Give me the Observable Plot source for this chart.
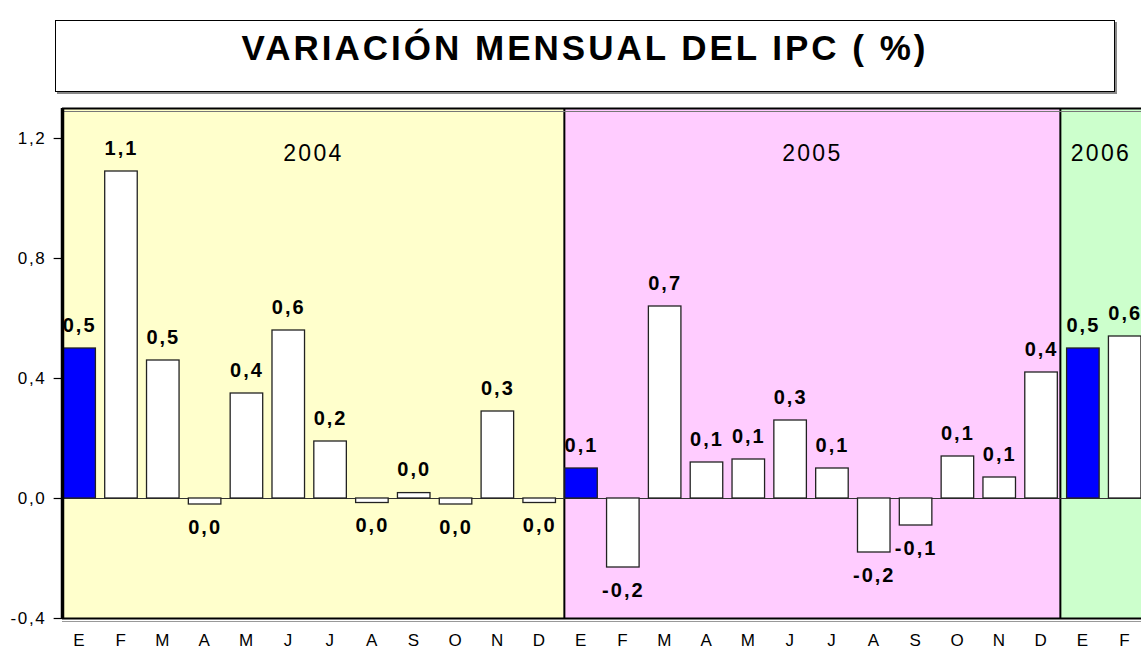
<!DOCTYPE html>
<html>
<head>
<meta charset="utf-8">
<script src="https://cdn.jsdelivr.net/npm/d3@7"></script>
<script src="https://cdn.jsdelivr.net/npm/@observablehq/plot@0.6"></script>
<style>
  html, body { margin: 0; padding: 0; background: #fff; }
  body { width: 1141px; height: 657px; position: relative; overflow: hidden; font-family: "Liberation Sans", Arial, sans-serif; }
  #title {
    position: absolute; left: 55px; top: 20px; width: 1058px; height: 70px;
    border: 1.5px solid #000; box-shadow: 2px 2px 0 #888; box-sizing: content-box;
    display: flex; align-items: center; justify-content: center;
    font-weight: bold; font-size: 35px; letter-spacing: 3px; color: #000;
  }
  #title span { position: relative; top: -8px; }
  #chart { position: absolute; left: 0; top: 100px; }
  #chart svg text { letter-spacing: 0.1em; }
</style>
</head>
<body>
<div id="title"><span>VARIACIÓN MENSUAL DEL IPC ( %)</span></div>
<div id="chart"></div>
<script>
// ---- data ----
const months = ["E","F","M","A","M","J","J","A","S","O","N","D",
                "E","F","M","A","M","J","J","A","S","O","N","D",
                "E","F"];
const years = [2004,2004,2004,2004,2004,2004,2004,2004,2004,2004,2004,2004,
               2005,2005,2005,2005,2005,2005,2005,2005,2005,2005,2005,2005,
               2006,2006];
const values = [0.50, 1.09, 0.46, -0.02, 0.35, 0.56, 0.19, -0.015, 0.018, -0.02, 0.29, -0.015,
                0.10, -0.23, 0.64, 0.12, 0.13, 0.26, 0.10, -0.18, -0.09, 0.14, 0.07, 0.42,
                0.50, 0.54];
const valueLabels = ["0,5","1,1","0,5","0,0","0,4","0,6","0,2","0,0","0,0","0,0","0,3","0,0",
                     "0,1","-0,2","0,7","0,1","0,1","0,3","0,1","-0,2","-0,1","0,1","0,1","0,4",
                     "0,5","0,6"];
// year background bands, in month-index units
const yearNames = ["2004", "2005", "2006"];
const yearStart = [-0.41, 11.59, 23.45];
const yearEnd   = [11.59, 23.45, 25.39];
const yTicks = [-0.4, 0, 0.4, 0.8, 1.2];

// ---- tables ----
const bars = values.map((v, i) => ({
  i, v, month: months[i], year: years[i], label: valueLabels[i],
  first: i === 0 || years[i] !== years[i - 1]
}));
const bands = yearNames.map((name, k) => ({name, x1: yearStart[k], x2: yearEnd[k], mid: (yearStart[k] + Math.min(yearEnd[k], 25.5)) / 2}));

const half = 0.389;
const xLeft = yearStart[0];
const fmt = d => d.toFixed(1).replace(".", ",");

const chart = Plot.plot({
  width: 1141,
  height: 557,
  marginLeft: 62,
  marginRight: 0,
  marginTop: 8,
  marginBottom: 39,
  style: {fontFamily: "'Liberation Sans', Arial, sans-serif", fontSize: "15px", color: "#000", background: "transparent", overflow: "visible"},
  x: {type: "linear", domain: [-0.41, 25.39], axis: null},
  y: {domain: [-0.4, 1.3], axis: null},
  color: {type: "ordinal", domain: yearNames, range: ["#FFFFCC", "#FFCCFF", "#CCFFCC"]},
  marks: [
    Plot.rect(bands, {x1: "x1", x2: "x2", fill: "name"}),
    Plot.ruleX(bands.slice(1), {x: "x1", stroke: "#000", strokeWidth: 2}),
    Plot.ruleY([0], {stroke: "#333", strokeWidth: 1}),
    Plot.rectY(bars, {
      x1: d => d.i - half, x2: d => d.i + half, y1: 0, y2: "v",
      fill: d => d.first ? "#0000FF" : "#FFFFFF",
      stroke: "#222", strokeWidth: 1.3
    }),
    Plot.text(bars.filter(d => d.v >= 0), {
      x: "i", y: "v", text: "label", lineAnchor: "bottom", dy: -17,
      fontSize: 20, fontWeight: "bold", fill: "#000"
    }),
    Plot.text(bars.filter(d => d.v < 0), {
      x: "i", y: "v", text: "label", lineAnchor: "bottom", dy: 29,
      fontSize: 20, fontWeight: "bold", fill: "#000"
    }),
    Plot.text(bands, {
      x: "mid", text: "name", frameAnchor: "top", lineAnchor: "bottom", dy: 52,
      fontSize: 23, fill: "#000"
    }),
    Plot.ruleY([1.3], {stroke: "#777", strokeWidth: 1, dy: 3}),
    Plot.ruleY([1.3], {stroke: "#000", strokeWidth: 2}),
    Plot.ruleY([-0.4], {stroke: "#999", strokeWidth: 1, dy: 3}),
    Plot.ruleY([-0.4], {stroke: "#000", strokeWidth: 2}),
    Plot.ruleX([xLeft], {stroke: "#000", strokeWidth: 3.5}),
    // y axis: tick marks and labels
    Plot.ruleY(yTicks, {y: d => d, x1: xLeft - 0.2, x2: xLeft, stroke: "#000", strokeWidth: 1.2}),
    Plot.text(yTicks, {
      y: d => d, text: fmt, frameAnchor: "left", textAnchor: "end", dx: -16,
      fontSize: 17, fill: "#000"
    }),
    // x axis: month labels
    Plot.text(bars, {
      x: "i", text: "month", frameAnchor: "bottom", lineAnchor: "top", dy: 15,
      fontSize: 17, fill: "#000"
    })
  ]
});
document.getElementById("chart").appendChild(chart);
</script>
</body>
</html>
